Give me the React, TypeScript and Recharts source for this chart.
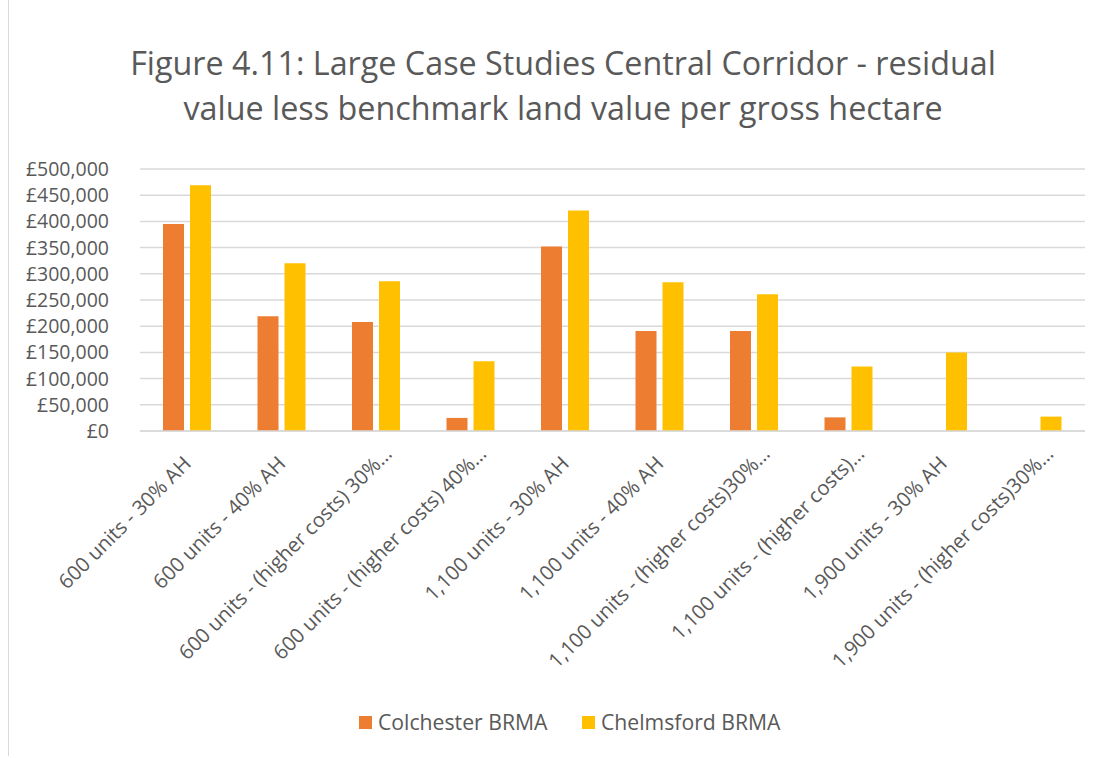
import { BarChart, Bar, XAxis, YAxis, CartesianGrid } from 'recharts'

const categories = [
  '600 units - 30% AH',
  '600 units - 40% AH',
  '600 units - (higher costs) 30%…',
  '600 units - (higher costs) 40%…',
  '1,100 units - 30% AH',
  '1,100 units - 40% AH',
  '1,100 units - (higher costs)30%…',
  '1,100 units - (higher costs)…',
  '1,900 units - 30% AH',
  '1,900 units - (higher costs)30%…',
]
const colchester = [395000, 219000, 208000, 25000, 352000, 191000, 191000, 26000, 0, 0]
const chelmsford = [469000, 320000, 286000, 133000, 421000, 284000, 261000, 123000, 150000, 27500]
const yTicks = [0, 50000, 100000, 150000, 200000, 250000, 300000, 350000, 400000, 450000, 500000]
const titleLines = [
  'Figure 4.11: Large Case Studies Central Corridor - residual',
  'value less benchmark land value per gross hectare',
]
const seriesNames = ['Colchester BRMA', 'Chelmsford BRMA']

const data = categories.map((name, i) => ({
  name,
  colchester: colchester[i],
  chelmsford: chelmsford[i],
}))

const FONT = '"Open Sans", sans-serif'
const TEXT = '#595959'
const GRID = '#d9d9d9'
const ORANGE = '#ED7D31'
const GOLD = '#FFC000'

const pounds = (v: number) => '£' + String(v).replace(/\B(?=(\d{3})+(?!\d))/g, ',')

// Excel pushes the clipped ("…") labels a little further along their slope
function CategoryTick({ x, y, payload }: any) {
  const clipped = String(payload.value).endsWith('…')
  const ax = x + (clipped ? 17 : 5)
  const ay = y + (clipped ? 24 : 34)
  return (
    <text
      x={ax}
      y={ay}
      transform={`rotate(-45, ${ax}, ${ay})`}
      textAnchor="end"
      fill={TEXT}
      fontSize={20.3}
      fontFamily={FONT}
    >
      {payload.value}
    </text>
  )
}

export default function App() {
  return (
    <div style={{ position: 'absolute', left: 0, top: 0, width: 1104, height: 758, background: '#fff' }}>
      <div style={{ position: 'absolute', left: 8, top: 0, width: 1, height: 756, background: GRID }} />
      <BarChart
        width={1104}
        height={758}
        data={data}
        margin={{ top: 169, right: 19, bottom: 77, left: 0 }}
        barSize={21}
        barGap={6}
      >
        <CartesianGrid vertical={false} stroke={GRID} strokeWidth={1.5} />
        <XAxis
          dataKey="name"
          interval={0}
          height={250}
          tickLine={false}
          tickSize={0}
          tickMargin={0}
          axisLine={{ stroke: GRID, strokeWidth: 1.5 }}
          tick={<CategoryTick />}
        />
        <YAxis
          width={140}
          domain={[0, 500000]}
          ticks={yTicks}
          interval={0}
          tickFormatter={pounds}
          axisLine={false}
          tickLine={false}
          tickSize={0}
          tickMargin={31}
          tick={{ fill: TEXT, fontSize: 19.5, fontFamily: FONT }}
        />
        <Bar dataKey="colchester" name={seriesNames[0]} fill={ORANGE} isAnimationActive={false} />
        <Bar dataKey="chelmsford" name={seriesNames[1]} fill={GOLD} isAnimationActive={false} />
      </BarChart>
      <svg
        width={1104}
        height={758}
        style={{ position: 'absolute', left: 0, top: 0, pointerEvents: 'none' }}
      >
        {titleLines.map((line, i) => (
          <text
            key={i}
            x={563}
            y={75 + i * 45}
            textAnchor="middle"
            fill={TEXT}
            fontSize={32.3}
            fontFamily={FONT}
          >
            {line}
          </text>
        ))}
        <rect x={359} y={716} width={13} height={13} fill={ORANGE} />
        <text x={378} y={730} fill={TEXT} fontSize={21.2} fontFamily={FONT}>
          {seriesNames[0]}
        </text>
        <rect x={582} y={716} width={13} height={13} fill={GOLD} />
        <text x={601} y={730} fill={TEXT} fontSize={21.2} fontFamily={FONT}>
          {seriesNames[1]}
        </text>
      </svg>
    </div>
  )
}
